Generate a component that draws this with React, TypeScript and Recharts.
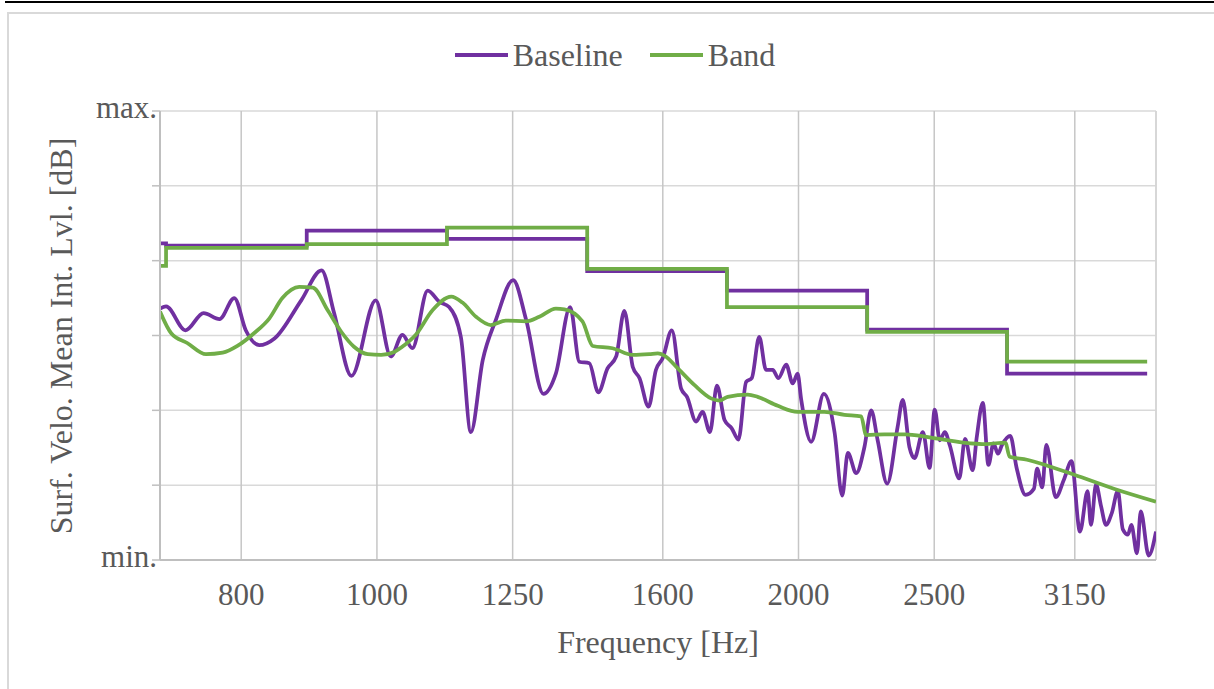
import React from 'react';
import { LineChart, Line, XAxis, YAxis, CartesianGrid, ReferenceLine } from 'recharts';

// frequency axis (log), third-octave centre labels
const xTicks = [800, 1000, 1250, 1600, 2000, 2500, 3150];
const yTicks = [0, 1, 2, 3, 4, 5, 6];
const yTickLabels: Record<number, string> = { 0: 'min.', 6: 'max.' };

// narrowband baseline
const baselineFreqs = [
  700, 707, 730, 752, 772, 791, 806, 824, 845, 883,
  913, 932, 959, 998, 1023, 1043, 1060, 1087, 1108, 1126,
  1148, 1167, 1190, 1216, 1251, 1278, 1315, 1342, 1374, 1395,
  1418, 1439, 1461, 1482, 1502, 1523, 1540, 1563, 1582, 1600,
  1624, 1649, 1665, 1690, 1708, 1729, 1749, 1771, 1792, 1812,
  1835, 1852, 1875, 1896, 1917, 1935, 1960, 1981, 1997, 2009,
  2042, 2085, 2122, 2149, 2169, 2199, 2229, 2254, 2278, 2314,
  2354, 2374, 2400, 2420, 2454, 2481, 2502, 2523, 2544, 2565,
  2605, 2630, 2663, 2681, 2708, 2733, 2756, 2776, 2795, 2833,
  2862, 2905, 2945, 2961, 2986, 3006, 3053, 3095, 3133, 3177,
  3217, 3235, 3262, 3289, 3316, 3348, 3381, 3409, 3438, 3457,
  3489, 3511, 3557, 3600,
];
const baselineLevels = [
  3.36, 3.39, 3.07, 3.30, 3.22, 3.50, 3.07, 2.87, 2.96, 3.47,
  3.87, 3.30, 2.46, 3.47, 2.72, 3.01, 2.83, 3.60, 3.45, 3.38,
  2.98, 1.71, 2.67, 3.21, 3.74, 3.21, 2.22, 2.49, 3.38, 2.65,
  2.63, 2.24, 2.56, 2.72, 3.33, 2.58, 2.43, 2.05, 2.54, 2.70,
  3.07, 2.29, 2.18, 1.85, 1.98, 1.71, 2.33, 1.87, 1.76, 1.61,
  2.38, 2.43, 2.98, 2.54, 2.54, 2.43, 2.61, 2.36, 2.49, 2.14,
  1.58, 2.22, 1.71, 0.86, 1.43, 1.16, 1.51, 2.00, 1.60, 1.02,
  1.78, 2.14, 1.51, 1.36, 1.71, 1.23, 2.01, 1.60, 1.71, 1.53,
  1.09, 1.62, 1.20, 1.64, 2.10, 1.27, 1.56, 1.42, 1.54, 1.66,
  1.24, 0.87, 0.95, 1.22, 0.97, 1.54, 0.84, 1.08, 1.32, 0.38,
  0.92, 0.47, 1.01, 0.72, 0.47, 0.63, 0.92, 0.41, 0.34, 0.47,
  0.09, 0.65, 0.06, 0.38,
];

// narrowband with band treatment
const bandFreqs = [
  700, 713, 732, 755, 776, 795, 817, 838, 856, 880,
  900, 922, 943, 963, 985, 1007, 1029, 1046, 1066, 1096,
  1130, 1151, 1177, 1206, 1236, 1278, 1306, 1342, 1361, 1402,
  1426, 1473, 1523, 1565, 1587, 1604, 1640, 1685, 1732, 1756,
  1780, 1840, 1870, 1933, 1997, 2087, 2157, 2217, 2235, 2303,
  2381, 2481, 2622, 2726, 2810, 2830, 2912, 3011, 3147, 3363,
  3600,
];
const bandLevels = [
  3.32, 3.03, 2.90, 2.75, 2.77, 2.86, 3.03, 3.23, 3.50, 3.65,
  3.64, 3.34, 3.05, 2.85, 2.75, 2.74, 2.78, 2.87, 3.01, 3.34,
  3.52, 3.44, 3.25, 3.14, 3.20, 3.19, 3.25, 3.36, 3.35, 3.19,
  2.86, 2.83, 2.74, 2.75, 2.76, 2.73, 2.56, 2.34, 2.16, 2.13,
  2.18, 2.21, 2.18, 2.06, 1.98, 1.98, 1.94, 1.92, 1.67, 1.68,
  1.68, 1.64, 1.57, 1.55, 1.57, 1.38, 1.34, 1.26, 1.14, 0.95,
  0.78,
];

// third-octave band levels (lower band edges, last = upper edge)
const octaveEdges = [700, 707, 891, 1122, 1413, 1778, 2239, 2818, 3548];
const baselineOctave = [4.23, 4.20, 4.40, 4.29, 3.86, 3.60, 3.08, 2.49, 2.49];
const bandOctave = [3.93, 4.17, 4.22, 4.44, 3.89, 3.38, 3.05, 2.65, 2.65];

const PURPLE = '#7030a0';
const GREEN = '#70ad47';
const TEXT = '#595959';
const FONT = '"Liberation Serif", "Times New Roman", serif';

const toRows = (fs: number[], vs: number[]) => fs.map((f, i) => ({ f, v: vs[i] }));

const baselineData = toRows(baselineFreqs, baselineLevels);
const bandData = toRows(bandFreqs, bandLevels);
const baselineSteps = toRows(octaveEdges, baselineOctave);
const bandSteps = toRows(octaveEdges, bandOctave);

const XTick = (props: any) => {
  const { x, payload } = props;
  return (
    <text x={x} y={605} textAnchor="middle" fill={TEXT} fontSize={31} fontFamily={FONT}>
      {payload.value}
    </text>
  );
};

const YTick = (props: any) => {
  const { x, y, payload } = props;
  const label = yTickLabels[payload.value] ?? '';
  return (
    <text x={x + 7} y={y + 7} textAnchor="end" fill={TEXT} fontSize={31} fontFamily={FONT}>
      {label}
    </text>
  );
};

const LegendItem = ({ color, label }: { color: string; label: string }) => (
  <div style={{ display: 'flex', alignItems: 'center', marginRight: 27 }}>
    <svg width={53} height={6} style={{ marginRight: 5 }}>
      <line x1={0} y1={3} x2={53} y2={3} stroke={color} strokeWidth={4} />
    </svg>
    <span>{label}</span>
  </div>
);

export default function App() {
  return (
    <div style={{ position: 'absolute', left: 0, top: 0, width: 1214, height: 689, overflow: 'hidden', background: '#fff' }}>
      <div style={{ position: 'absolute', left: 5, top: 1, width: 1214, height: 2, background: '#000' }} />
      <div
        style={{
          position: 'absolute',
          left: 7,
          top: 12,
          width: 1300,
          height: 800,
          border: '2px solid #d9d9d9',
        }}
      />
      <div
        style={{
          position: 'absolute',
          top: 36,
          left: 0,
          width: 1214,
          display: 'flex',
          justifyContent: 'center',
          paddingLeft: 43,
          boxSizing: 'border-box',
          fontFamily: FONT,
          fontSize: 32,
          color: TEXT,
          lineHeight: '38px',
        }}
      >
        <LegendItem color={PURPLE} label="Baseline" />
        <LegendItem color={GREEN} label="Band" />
      </div>
      <div style={{ position: 'absolute', left: 0, top: 0 }}>
        <LineChart width={1214} height={689} margin={{ top: 111, right: 58, bottom: 0, left: 0 }}>
          <CartesianGrid vertical={false} stroke="#d9d9d9" strokeWidth={1.5} />
          <CartesianGrid horizontal={false} stroke="#c6c6c6" strokeWidth={1.5} />
          <ReferenceLine x={3600} stroke="#d9d9d9" strokeWidth={1.5} />
          <XAxis
            dataKey="f"
            type="number"
            scale="log"
            domain={[700, 3600]}
            ticks={xTicks}
            allowDataOverflow
            height={129}
            axisLine={{ stroke: '#bfbfbf', strokeWidth: 2 }}
            tickLine={false}
            tick={<XTick />}
            label={{ value: 'Frequency [Hz]', position: 'insideBottom', offset: 36, fill: TEXT, fontSize: 32, fontFamily: FONT }}
          />
          <YAxis
            type="number"
            domain={[0, 6]}
            ticks={yTicks}
            width={160}
            axisLine={{ stroke: '#bfbfbf', strokeWidth: 2 }}
            tickLine={{ stroke: '#bfbfbf', strokeWidth: 1.5 }}
            tickSize={8}
            tick={<YTick />}
            label={{
              content: () => (
                <text
                  x={72}
                  y={336}
                  transform="rotate(-90 72 336)"
                  textAnchor="middle"
                  fill={TEXT}
                  fontSize={32}
                  fontFamily={FONT}
                >
                  Surf. Velo. Mean Int. Lvl. [dB]
                </text>
              ),
            }}
          />
          <Line data={baselineData} dataKey="v" name="Baseline" type="monotone" stroke={PURPLE} strokeWidth={3.75} dot={false} isAnimationActive={false} />
          <Line data={bandData} dataKey="v" name="Band" type="monotone" stroke={GREEN} strokeWidth={3.75} dot={false} isAnimationActive={false} />
          <Line data={baselineSteps} dataKey="v" name="Baseline 1/3 oct." type="stepAfter" stroke={PURPLE} strokeWidth={3.75} dot={false} isAnimationActive={false} />
          <Line data={bandSteps} dataKey="v" name="Band 1/3 oct." type="stepAfter" stroke={GREEN} strokeWidth={3.75} dot={false} isAnimationActive={false} />
        </LineChart>
      </div>
    </div>
  );
}
